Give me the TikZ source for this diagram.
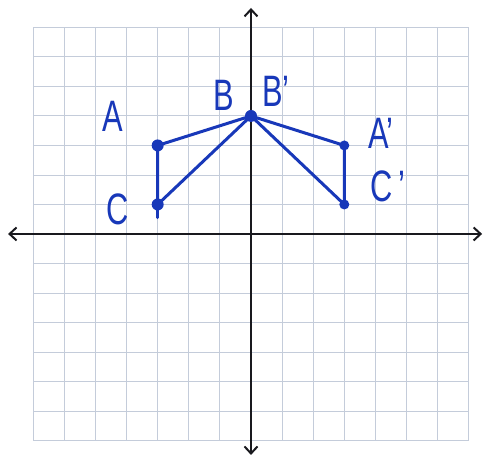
\documentclass[tikz,border=0pt]{standalone}
\usepackage{fontspec}
\setmainfont{Liberation Sans}
\usetikzlibrary{arrows.meta}
\definecolor{gridc}{RGB}{196,204,218}
\definecolor{ink}{RGB}{24,56,185}
\definecolor{axisc}{RGB}{25,25,30}
\tikzset{
  gridline/.style={gridc, line width=0.9pt},
  axisline/.style={axisc, line width=2pt, {Straight Barb[length=7pt,width=13pt]}-{Straight Barb[length=7pt,width=13pt]}},
  shape line/.style={ink, line width=3pt, line join=round, line cap=round},
  bigdot/.style={circle, fill=ink, inner sep=0pt, minimum size=12pt},
  smalldot/.style={circle, fill=ink, inner sep=0pt, minimum size=10pt},
  lbl/.style={ink, font=\fontsize{44}{44}\selectfont, xscale=0.7, inner sep=0pt}
}
\begin{document}
\begin{tikzpicture}[x=31.1pt, y=29.5pt]
\useasboundingbox (-8.07,-7.76) rectangle (7.62,7.93);
\fill[white] (-8.07,-7.76) rectangle (7.62,7.93);
% grid
\foreach \i in {-7,...,7} {
  \draw[gridline] (\i,-7) -- (\i,7);
  \draw[gridline] (-7,\i) -- (7,\i);
}
% axes
\coordinate (xl) at (-7.81,0);
\coordinate (xr) at (7.43,0);
\coordinate (yt) at (0,7.66);
\coordinate (yb) at (0,-7.49);
\draw[axisline] (xl) -- (xr);
\draw[axisline] (yb) -- (yt);
% points
\coordinate (A) at (-3,3);
\coordinate (C) at (-3,1);
\coordinate (B) at (0,4);
\coordinate (A1) at (3,3);
\coordinate (C1) at (3,1);
\coordinate (Ctail) at (-3,0.55);
\draw[shape line] (B) -- (A) -- (C) -- cycle;
\draw[shape line] (C) -- (Ctail);
\draw[shape line] (B) -- (A1) -- (C1) -- cycle;
\node[bigdot] (dA) at (A) {};
\node[bigdot] (dC) at (C) {};
\node[bigdot] (dB) at (B) {};
\node[smalldot] (dA1) at (A1) {};
\node[smalldot] (dC1) at (C1) {};
% labels
\node[lbl] (lA) at (-4.44,4.0) {A};
\node[lbl] (lB) at (-0.87,4.71) {B};
\node[lbl] (lB1) at (0.80,4.85) {B'};
\node[lbl] (lA1) at (4.18,3.42) {A'};
\node[lbl] (lC1) at (4.40,1.63) {C\,'};
\node[lbl] (lC) at (-4.28,0.85) {C};
\end{tikzpicture}
\end{document}
